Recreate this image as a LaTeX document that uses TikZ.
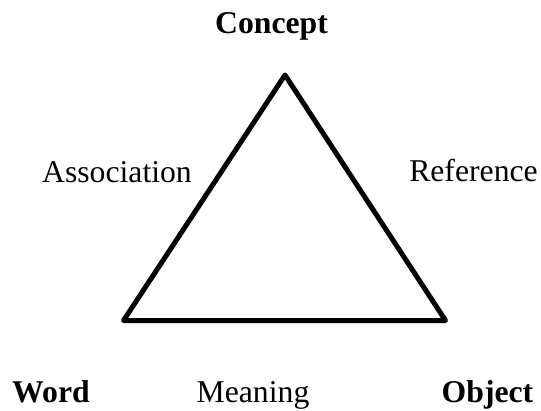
\documentclass[tikz,border=0pt]{standalone}
\usepackage{fontspec}
\setmainfont{Liberation Serif}
\usepackage{tikz}
\usetikzlibrary{positioning}

\begin{document}
\begin{tikzpicture}[
		x=1pt, y=-1pt,
		corner/.style={font=\fontsize{31.7}{38}\selectfont\bfseries, anchor=base, inner sep=0pt},
		relation/.style={font=\fontsize{31.7}{38}\selectfont, anchor=base, inner sep=0pt},
		edge/.style={line width=5pt, line join=round}
		]
		\useasboundingbox (0,0) rectangle (541,410);
		
		% Triangle vertices
		\coordinate (top) at (285,75);
		\coordinate (left) at (123.5,320.5);
		\coordinate (right) at (445.5,320.5);
		
		% Corner labels
		\node[corner] (concept) at (271.5,33) {Concept};
		\node[corner] (word) at (51,402) {Word};
		\node[corner] (object) at (487.5,402) {Object};
		
		% Relations
		\node[relation] (association) at (117,182) {Association};
		\node[relation] (reference) at (473.5,181) {Reference};
		\node[relation] (meaning) at (253,402) {Meaning};
		
		% Triangle
		\draw[edge] (top) -- (left) -- (right) -- cycle;
		
	\end{tikzpicture}
\end{document}
